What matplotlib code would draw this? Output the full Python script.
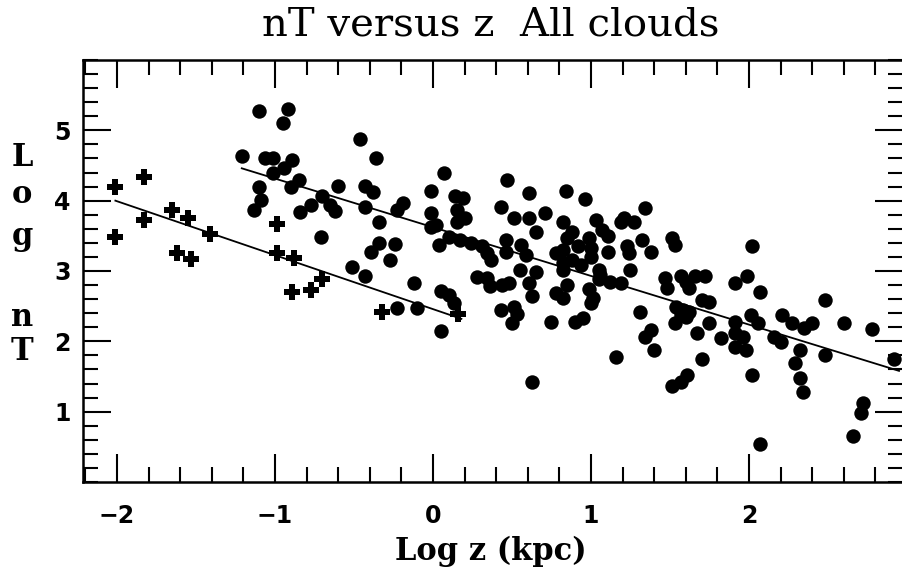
import matplotlib
matplotlib.use("Agg")
import matplotlib.pyplot as plt
from matplotlib.ticker import MultipleLocator
import numpy as np

# ---- data ----
dots_x = [-1.10, -0.92, -0.95, -0.46, -1.21, -1.06, -1.01, -0.89, -0.94, -1.01,
          -0.85, -0.90, -1.10, -0.60, -0.70, -0.65, -0.62, -1.09, -1.13, -0.77,
          -0.84, -0.71, -0.51, -0.43, -0.43,
          -0.36, 0.07, -0.38, -0.01, 0.14, 0.19, 0.47, 0.61, 0.84, 0.96,
          -0.19, -0.23, -0.34, -0.01, 0.02, -0.01, 0.15, 0.20, 0.15, 0.43,
          0.51, 0.61, 0.71, 0.65, 0.82, 1.03, 1.19, 1.27, 1.11, -0.34,
          -0.39, -0.24, -0.27, 0.04, 0.10, 0.17, 0.24, 0.31, 0.34, 0.37,
          0.46, 0.46, 0.56, 0.59, 0.55, 0.65, 0.78, 0.82, 0.85, 0.92,
          0.88, 0.99, 1.00, 1.05, 1.11, 1.23, 1.24, 1.25, -0.43, -0.12,
          0.05, 0.10, 0.28, 0.34, 0.36, 0.44, 0.48, 0.61, 0.78, 0.85,
          0.99, 1.05, 1.12, 1.19, 1.01, 0.63,
          0.13, -0.23, -0.10, 0.05, 0.43, 0.51, 0.53, 0.50, 0.75, 0.90,
          0.95, 1.16, 0.63,
          1.34, 1.21, 0.88, 0.82, 1.07, 1.00, 1.32, 1.38, 1.51, 1.53,
          0.94, 0.82, 1.06, 0.82, 1.00, 1.47, 1.48, 1.57, 1.60, 1.62,
          1.66, 1.72, 1.70, 1.75, 1.54, 1.58, 1.60, 1.53, 1.75, 1.31,
          1.38, 1.34, 1.67, 1.82,
          2.02, 1.91, 1.99, 2.07, 2.48, 1.40, 1.70, 1.61, 1.57, 1.51,
          1.91, 1.91, 1.96, 1.91, 1.98, 2.01, 2.06, 2.02, 2.07, 2.16,
          2.20, 2.21, 2.27, 2.32, 2.29, 2.32, 2.34, 2.35, 2.40, 2.48,
          2.60, 2.78, 2.92, 2.72, 2.71, 2.66, 1.62, 1.57]
dots_y = [5.28, 5.30, 5.11, 4.88, 4.64, 4.61, 4.61, 4.58, 4.47, 4.40,
          4.30, 4.20, 4.20, 4.21, 4.07, 3.94, 3.86, 4.01, 3.87, 3.94,
          3.84, 3.49, 3.05, 4.21, 3.91,
          4.61, 4.40, 4.13, 4.14, 4.06, 4.04, 4.30, 4.11, 4.14, 4.03,
          3.97, 3.87, 3.69, 3.83, 3.66, 3.62, 3.87, 3.76, 3.69, 3.91,
          3.76, 3.76, 3.83, 3.56, 3.69, 3.73, 3.70, 3.69, 3.50, 3.40,
          3.27, 3.39, 3.16, 3.37, 3.49, 3.44, 3.40, 3.35, 3.26, 3.16,
          3.44, 3.27, 3.37, 3.23, 3.02, 2.99, 3.26, 3.12, 3.47, 3.35,
          3.16, 3.47, 3.20, 3.02, 3.27, 3.35, 3.26, 3.02, 2.93, 2.83,
          2.72, 2.66, 2.92, 2.90, 2.78, 2.80, 2.83, 2.83, 2.69, 2.80,
          2.74, 2.88, 2.85, 2.83, 2.62, 2.64,
          2.55, 2.48, 2.48, 2.14, 2.45, 2.49, 2.39, 2.26, 2.28, 2.28,
          2.33, 1.78, 1.42,
          3.89, 3.76, 3.55, 3.30, 3.58, 3.32, 3.44, 3.27, 3.47, 3.37,
          3.09, 3.02, 2.95, 2.62, 2.55, 2.90, 2.76, 2.93, 2.85, 2.76,
          2.93, 2.93, 2.59, 2.56, 2.49, 2.45, 2.35, 2.26, 2.26, 2.41,
          2.16, 2.06, 2.12, 2.05,
          3.35, 2.83, 2.93, 2.70, 2.59, 1.88, 1.75, 1.52, 1.42, 1.37,
          2.28, 2.12, 2.06, 1.92, 1.88, 2.38, 2.26, 1.52, 0.54, 2.06,
          1.99, 2.38, 2.26, 1.88, 1.69, 1.48, 1.28, 2.19, 2.26, 1.81,
          2.26, 2.18, 1.75, 1.12, 0.98, 0.65, 2.42, 2.38]

cross_x = [-2.01, -1.83, -2.01, -1.83, -1.65, -1.55, -1.62, -1.53, -1.41,
           -0.99, -0.99, -0.88, -0.70, -0.89, -0.77, -0.32, 0.16]
cross_y = [4.20, 4.33, 3.49, 3.73, 3.87, 3.76, 3.25, 3.17, 3.52,
           3.67, 3.26, 3.19, 2.89, 2.70, 2.73, 2.41, 2.39]

# fitted lines (end points)
fit_cross_x = [-2.01, 0.18]
fit_cross_y = [4.00, 2.32]
fit_dots_x = [-1.21, 2.95]
fit_dots_y = [4.46, 1.58]

x_ticks = [-2, -1, 0, 1, 2]
y_ticks = [1, 2, 3, 4, 5]

# ---- figure ----
fig = plt.figure(figsize=(9.03, 5.87), dpi=100)
ax = fig.add_axes([83/903, 1 - 482/587, 1 - 83/903, (482 - 60)/587])

ax.scatter(dots_x, dots_y, s=108, c='black', marker='o', linewidths=0, zorder=3)
ax.plot(cross_x, cross_y, linestyle='none', marker='P', markersize=11.5,
        color='black', markeredgewidth=0, zorder=3)
ax.plot(fit_cross_x, fit_cross_y, color='black', lw=1.3, zorder=2)
ax.plot(fit_dots_x, fit_dots_y, color='black', lw=1.3, zorder=2)

ax.set_xlim(-2.215, 2.975)
ax.set_ylim(0, 6.0)
ax.set_xticks(x_ticks)
ax.set_yticks(y_ticks)
ax.xaxis.set_minor_locator(MultipleLocator(0.2))
ax.yaxis.set_minor_locator(MultipleLocator(0.2))
ax.set_xticklabels([str(v) if v >= 0 else '\u2212' + str(-v) for v in x_ticks])
ax.set_yticklabels([str(v) for v in y_ticks])

for s in ax.spines.values():
    s.set_linewidth(1.8)

ax.tick_params(which='both', direction='in', top=True, right=True,
               width=1.5, color='black')
ax.tick_params(which='major', length=20)
ax.tick_params(which='minor', length=11)
ax.tick_params(axis='x', which='major', pad=16)
ax.tick_params(axis='y', which='major', pad=9)
for lab in ax.get_xticklabels() + ax.get_yticklabels():
    lab.set_fontfamily('DejaVu Sans')
    lab.set_fontweight('bold')
    lab.set_fontsize(17)

# title and axis labels
fig.text(491/903, 1 - 36/587, 'nT versus z  All clouds', ha='center',
         va='baseline', fontfamily='DejaVu Serif', fontsize=29)
fig.text(491/903, 1 - 560/587, 'Log z (kpc)', ha='center', va='baseline',
         fontfamily='DejaVu Serif', fontsize=22, fontweight='bold')

ylab_letters = ['L', 'o', 'g', 'n', 'T']
ylab_pos = [158, 195, 237, 317, 352]
for ch, py in zip(ylab_letters, ylab_pos):
    fig.text(22/903, 1 - py/587, ch, ha='center', va='center',
             fontfamily='DejaVu Serif', fontsize=22, fontweight='bold')

fig.savefig('out.png', dpi=100)
